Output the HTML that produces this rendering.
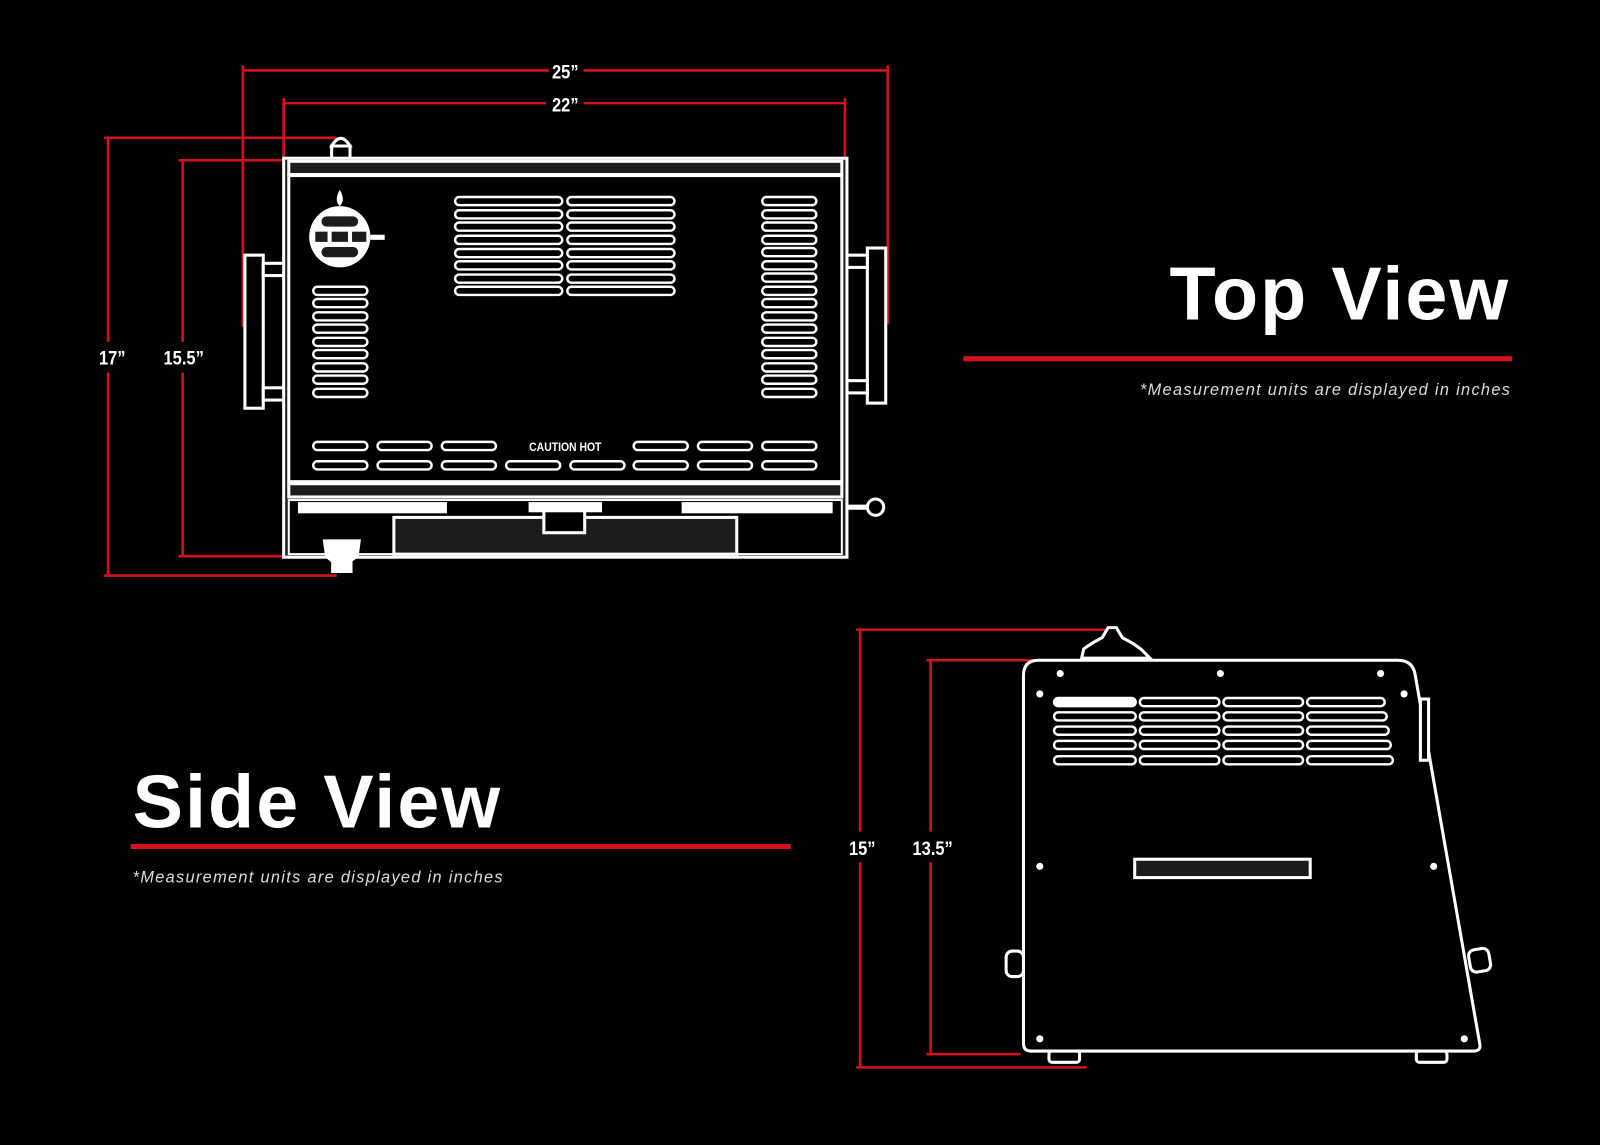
<!DOCTYPE html>
<html><head><meta charset="utf-8"><style>
html,body{margin:0;padding:0;background:#000;}
svg{display:block}
</style></head><body>
<svg width="1600" height="1145" viewBox="0 0 1568 1122" xmlns="http://www.w3.org/2000/svg">
<rect width="1568" height="1122" fill="#000"/>
<defs>
<g id="pill"><rect x="0" y="-4" width="53" height="8" rx="4" fill="none" stroke="#fff" stroke-width="2.4"/></g>
<g id="pillw"><rect x="0" y="-4" width="105" height="8" rx="4" fill="none" stroke="#fff" stroke-width="2.4"/></g>
</defs>
<g stroke="#d4121e" stroke-width="2.5" fill="none">
<line x1="238" y1="69" x2="538" y2="69"/><line x1="572" y1="69" x2="870" y2="69"/>
<line x1="238" y1="64" x2="238" y2="320"/><line x1="870" y1="64" x2="870" y2="318"/>
<line x1="278" y1="101" x2="535" y2="101"/><line x1="572" y1="101" x2="828" y2="101"/>
<line x1="278" y1="96" x2="278" y2="160"/><line x1="828" y1="96" x2="828" y2="158"/>
<line x1="106" y1="135" x2="106" y2="335"/><line x1="106" y1="365" x2="106" y2="564"/>
<line x1="102" y1="135" x2="330" y2="135"/><line x1="102" y1="564" x2="330" y2="564"/>
<line x1="179" y1="157" x2="179" y2="335"/><line x1="179" y1="365" x2="179" y2="545"/>
<line x1="175" y1="157" x2="280" y2="157"/><line x1="175" y1="545" x2="280" y2="545"/>
</g>
<g fill="#fff" font-family="Liberation Sans, sans-serif" font-weight="bold" font-size="19">
<text x="554" y="77" text-anchor="middle" transform="translate(554 0) scale(0.85 1) translate(-554 0)">25”</text>
<text x="554" y="109" text-anchor="middle" transform="translate(554 0) scale(0.85 1) translate(-554 0)">22”</text>
<text x="110" y="357" text-anchor="middle" transform="translate(110 0) scale(0.85 1) translate(-110 0)">17”</text>
<text x="180" y="357" text-anchor="middle" transform="translate(180 0) scale(0.85 1) translate(-180 0)">15.5”</text>
</g>
<g stroke="#fff" stroke-width="3" fill="#000">
<rect x="240" y="250" width="18" height="150"/>
<rect x="258" y="258" width="22" height="12"/><rect x="258" y="380" width="22" height="12"/>
<rect x="850" y="243" width="18" height="152"/>
<rect x="830" y="250" width="20" height="12"/><rect x="830" y="373" width="20" height="12"/>
<rect x="325" y="143" width="18" height="14"/>
<path d="M325 143 Q334 128 343 143 Z"/>
<rect x="278" y="155" width="552" height="391" fill="#1c1c1c"/>
<rect x="283" y="158" width="542" height="13" fill="#1c1c1c"/>
<rect x="283" y="172" width="542" height="300" fill="#000"/>
<rect x="283" y="474" width="542" height="13" fill="#1c1c1c"/>
<rect x="283" y="490" width="542" height="53" fill="#000" stroke-width="2"/>
<rect x="386" y="507" width="336" height="36" fill="#1c1c1c"/>
<rect x="533" y="500" width="40" height="22" fill="#000"/>
<path d="M318 530 L352 530 L350 545 L340 552 L328 552 L320 545 Z" fill="#fff"/>
<rect x="326" y="548" width="18" height="12" fill="#fff"/>
<line x1="830" y1="497" x2="850" y2="497" stroke-width="5"/>
<circle cx="858" cy="497" r="8" fill="#000"/>
</g>
<g fill="#fff">
<rect x="292" y="492" width="146" height="11"/>
<rect x="668" y="492" width="148" height="11"/>
<rect x="518" y="492" width="72" height="10"/>
<circle cx="333" cy="232" r="30"/>
<path d="M333 186 Q339 196 333 202 Q327 196 333 186Z"/>
<rect x="363" y="230" width="14" height="5"/>
</g>
<g fill="#1c1c1c">
<rect x="315" y="212" width="36" height="10" rx="5"/>
<rect x="315" y="242" width="36" height="10" rx="5"/>
<rect x="309" y="227" width="12" height="10"/><rect x="325" y="227" width="16" height="10"/><rect x="345" y="227" width="14" height="10"/>
</g>
<g>
<use href="#pillw" x="446" y="197"/><use href="#pillw" x="556" y="197"/>
<use href="#pillw" x="446" y="210"/><use href="#pillw" x="556" y="210"/>
<use href="#pillw" x="446" y="222"/><use href="#pillw" x="556" y="222"/>
<use href="#pillw" x="446" y="235"/><use href="#pillw" x="556" y="235"/>
<use href="#pillw" x="446" y="248"/><use href="#pillw" x="556" y="248"/>
<use href="#pillw" x="446" y="260"/><use href="#pillw" x="556" y="260"/>
<use href="#pillw" x="446" y="273"/><use href="#pillw" x="556" y="273"/>
<use href="#pillw" x="446" y="285"/><use href="#pillw" x="556" y="285"/>
<use href="#pill" x="307" y="285"/><use href="#pill" x="307" y="297"/><use href="#pill" x="307" y="310"/>
<use href="#pill" x="307" y="322"/><use href="#pill" x="307" y="335"/><use href="#pill" x="307" y="347"/>
<use href="#pill" x="307" y="360"/><use href="#pill" x="307" y="372"/><use href="#pill" x="307" y="385"/>
<use href="#pill" x="747" y="197"/><use href="#pill" x="747" y="210"/><use href="#pill" x="747" y="222"/>
<use href="#pill" x="747" y="235"/><use href="#pill" x="747" y="247"/><use href="#pill" x="747" y="260"/>
<use href="#pill" x="747" y="272"/><use href="#pill" x="747" y="285"/><use href="#pill" x="747" y="297"/>
<use href="#pill" x="747" y="310"/><use href="#pill" x="747" y="322"/><use href="#pill" x="747" y="335"/>
<use href="#pill" x="747" y="347"/><use href="#pill" x="747" y="360"/><use href="#pill" x="747" y="372"/>
<use href="#pill" x="747" y="385"/>
<use href="#pill" x="307" y="437"/><use href="#pill" x="370" y="437"/><use href="#pill" x="433" y="437"/>
<use href="#pill" x="621" y="437"/><use href="#pill" x="684" y="437"/><use href="#pill" x="747" y="437"/>
<use href="#pill" x="307" y="456"/><use href="#pill" x="370" y="456"/><use href="#pill" x="433" y="456"/>
<use href="#pill" x="496" y="456"/><use href="#pill" x="559" y="456"/>
<use href="#pill" x="621" y="456"/><use href="#pill" x="684" y="456"/><use href="#pill" x="747" y="456"/>
</g>
<text x="554" y="442" text-anchor="middle" fill="#fff" font-family="Liberation Sans, sans-serif" font-weight="bold" font-size="12" transform="translate(554 0) scale(0.85 1) translate(-554 0)">CAUTION HOT</text>
<text x="1480" y="313" text-anchor="end" fill="#fff" font-family="Liberation Sans, sans-serif" font-weight="bold" font-size="74" letter-spacing="2">Top View</text>
<rect x="944" y="349" width="538" height="5" fill="#d4121e"/>
<text x="1481" y="387" text-anchor="end" fill="#ddd" font-family="Liberation Sans, sans-serif" font-style="italic" font-size="16" letter-spacing="1.3">*Measurement units are displayed in inches</text>
<text x="130" y="811" fill="#fff" font-family="Liberation Sans, sans-serif" font-weight="bold" font-size="74" letter-spacing="2">Side View</text>
<rect x="128" y="827" width="647" height="5" fill="#d4121e"/>
<text x="130" y="865" fill="#ddd" font-family="Liberation Sans, sans-serif" font-style="italic" font-size="16" letter-spacing="1.3">*Measurement units are displayed in inches</text>
<g stroke="#d4121e" stroke-width="2.5" fill="none">
<line x1="839" y1="617" x2="1090" y2="617"/>
<line x1="843" y1="617" x2="843" y2="815"/><line x1="843" y1="845" x2="843" y2="1046"/>
<line x1="839" y1="1046" x2="1065" y2="1046"/>
<line x1="908" y1="647" x2="1050" y2="647"/>
<line x1="912" y1="647" x2="912" y2="815"/><line x1="912" y1="845" x2="912" y2="1033"/>
<line x1="908" y1="1033" x2="1000" y2="1033"/>
</g>
<g fill="#fff" font-family="Liberation Sans, sans-serif" font-weight="bold" font-size="19">
<text x="845" y="838" text-anchor="middle" transform="translate(845 0) scale(0.85 1) translate(-845 0)">15”</text>
<text x="914" y="838" text-anchor="middle" transform="translate(914 0) scale(0.85 1) translate(-914 0)">13.5”</text>
</g>
<g stroke="#fff" stroke-width="3" fill="#000">
<path d="M1060 645 L1062 636 Q1070 630 1080 625 L1086 615 L1094 615 L1100 625 Q1110 630 1118 636 L1127 645 Z" fill="#000"/>
<path d="M1018 647 L1370 647 Q1385 647 1387 662 L1450 1022 Q1452 1030 1444 1030 L1010 1030 Q1003 1030 1003 1022 L1003 662 Q1003 647 1018 647 Z"/>
<rect x="1392" y="685" width="8" height="60"/>
<rect x="1112" y="842" width="172" height="18" fill="#1c1c1c"/>
<rect x="986" y="932" width="17" height="25" rx="6"/>
<rect x="1440" y="930" width="20" height="22" rx="6" transform="rotate(-10 1450 941)"/>
<rect x="1028" y="1030" width="30" height="11" rx="3"/>
<rect x="1388" y="1030" width="30" height="11" rx="3"/>
</g>
<g fill="#fff">
<rect x="1033" y="684" width="80" height="8" rx="4"/>
<circle cx="1039" cy="660" r="3.5"/><circle cx="1196" cy="660" r="3.5"/><circle cx="1353" cy="660" r="3.5"/>
<circle cx="1019" cy="680" r="3.5"/><circle cx="1376" cy="680" r="3.5"/>
<circle cx="1019" cy="849" r="3.5"/><circle cx="1405" cy="849" r="3.5"/>
<circle cx="1019" cy="1018" r="3.5"/><circle cx="1435" cy="1018" r="3.5"/>
</g>
<g fill="none" stroke="#fff" stroke-width="2.4">
<rect x="1033" y="684" width="80" height="8" rx="4"/><rect x="1117" y="684" width="78" height="8" rx="4"/><rect x="1199" y="684" width="78" height="8" rx="4"/><rect x="1281" y="684" width="76" height="8" rx="4"/>
<rect x="1033" y="698" width="80" height="8" rx="4"/><rect x="1117" y="698" width="78" height="8" rx="4"/><rect x="1199" y="698" width="78" height="8" rx="4"/><rect x="1281" y="698" width="78" height="8" rx="4"/>
<rect x="1033" y="712" width="80" height="8" rx="4"/><rect x="1117" y="712" width="78" height="8" rx="4"/><rect x="1199" y="712" width="78" height="8" rx="4"/><rect x="1281" y="712" width="80" height="8" rx="4"/>
<rect x="1033" y="726" width="80" height="8" rx="4"/><rect x="1117" y="726" width="78" height="8" rx="4"/><rect x="1199" y="726" width="78" height="8" rx="4"/><rect x="1281" y="726" width="82" height="8" rx="4"/>
<rect x="1033" y="741" width="80" height="8" rx="4"/><rect x="1117" y="741" width="78" height="8" rx="4"/><rect x="1199" y="741" width="78" height="8" rx="4"/><rect x="1281" y="741" width="84" height="8" rx="4"/>
</g>
</svg>
</body></html>
